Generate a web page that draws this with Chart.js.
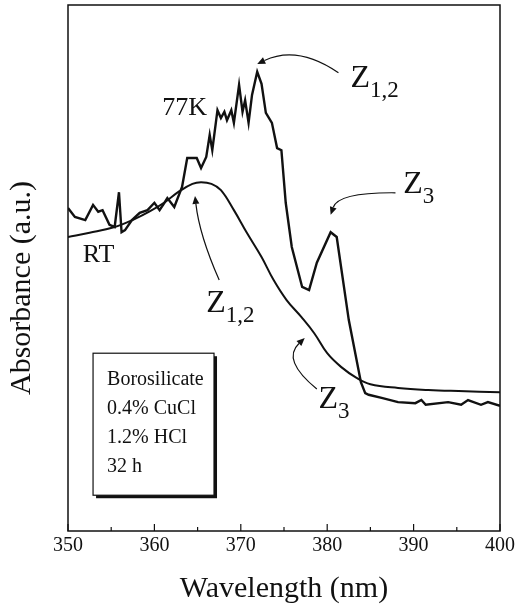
<!DOCTYPE html>
<html>
<head>
<meta charset="utf-8">
<script src="https://cdn.jsdelivr.net/npm/chart.js@4.4.0/dist/chart.umd.min.js"></script>
<style>
  html, body { margin: 0; padding: 0; background: #fff; }
  canvas { display: block; }
</style>
</head>
<body>
<canvas id="spectrum" width="518" height="609"></canvas>
<script>
// Wavelength (nm) and absorbance (a.u., arbitrary 0-100)
const wl77K = [350.0, 350.8, 352.0, 352.9, 353.5, 354.0, 354.8, 355.4, 355.9, 356.2,
               356.6, 357.4, 358.3, 359.2, 360.0, 360.6, 361.2, 361.5, 362.3, 363.2,
               363.8, 364.9, 365.4, 366.0, 366.4, 366.7, 367.3, 367.7, 368.1, 368.4,
               368.9, 369.2, 369.8, 370.2, 370.5, 370.9, 371.3, 371.9, 372.4, 372.9,
               373.6, 374.2, 374.7, 375.2, 375.9, 377.1, 377.9, 378.8, 380.4, 381.1,
               382.5, 383.9, 384.4, 384.8, 386.3, 388.2, 390.2, 390.9, 391.4, 394.0,
               395.5, 396.3, 397.8, 398.6, 400.0];
const abs77K = [61.4, 59.7, 59.1, 62.0, 60.7, 61.0, 58.2, 57.8, 64.4, 56.8,
                57.2, 59.1, 60.5, 61.0, 62.4, 61.0, 62.5, 63.3, 61.6, 65.4,
                70.9, 70.9, 69.0, 71.1, 75.3, 72.4, 80.0, 78.5, 79.7, 78.1,
                80.0, 77.6, 84.8, 79.7, 81.9, 77.6, 82.9, 87.3, 85.0, 79.5,
                77.6, 72.8, 72.4, 62.4, 54.0, 46.4, 45.8, 51.0, 56.8, 55.9,
                40.1, 28.3, 26.2, 25.9, 25.3, 24.5, 24.3, 24.9, 24.0, 24.5,
                24.0, 24.9, 24.0, 24.5, 23.8];

const wlRT = [350.0, 352.5, 355.4, 357.7, 359.4, 361.2, 362.9, 364.4, 365.4, 366.6,
              367.7, 369.2, 370.7, 372.4, 373.8, 375.3, 377.0, 378.5, 380.0, 381.6,
              383.4, 385.0, 388.2, 391.7, 395.2, 400.0];
const absRT = [55.9, 56.7, 57.8, 59.3, 60.7, 62.5, 64.6, 66.0, 66.3, 66.0,
               64.8, 61.0, 56.7, 52.1, 47.7, 43.9, 40.7, 37.6, 33.8, 31.2,
               29.1, 27.9, 27.2, 26.8, 26.6, 26.4];

const xTicks = [350, 360, 370, 380, 390, 400];
const insetLines = ['Borosilicate', '0.4% CuCl', '1.2% HCl', '32 h'];

const serif = '"Liberation Serif", "Times New Roman", serif';
const ink = '#111';

// labels and arrows, placed in data coordinates
const notes = [
  { text: '77K', x: 360.9, y: 79.1, size: 26 },
  { text: 'RT', x: 351.7, y: 51.1, size: 26 },
  { text: 'Z', sub: '1,2', x: 382.7, y: 84.4 },
  { text: 'Z', sub: '3', x: 388.8, y: 64.3 },
  { text: 'Z', sub: '1,2', x: 366.0, y: 41.6 },
  { text: 'Z', sub: '3', x: 379.0, y: 23.4 }
];
const arrows = [
  { from: [381.3, 87.1], ctrl: [376.6, 92.4], to: [371.9, 88.8] },
  { from: [387.9, 64.3], ctrl: [381.3, 64.4], to: [380.4, 60.1] },
  { from: [367.5, 47.7], ctrl: [365.2, 56.3], to: [364.7, 63.7] },
  { from: [378.8, 27.0], ctrl: [374.7, 32.5], to: [377.4, 36.7] }
];
const inset = { left: 352.9, top: 33.8, right: 366.9, bottom: 6.8 };

const extras = {
  id: 'extras',
  afterDatasetsDraw(chart) {
    const { ctx, chartArea: a, scales } = chart;
    const px = v => scales.x.getPixelForValue(v);
    const py = v => scales.y.getPixelForValue(v);
    ctx.save();
    ctx.strokeStyle = ink;
    ctx.fillStyle = ink;

    // frame
    ctx.lineWidth = 1.5;
    ctx.strokeRect(a.left, a.top, a.right - a.left, a.bottom - a.top);

    // inward ticks on the wavelength axis
    ctx.lineWidth = 1.2;
    for (let v = 350; v <= 400; v += 5) {
      const x = px(v);
      const len = v % 10 === 0 ? 7 : 4;
      ctx.beginPath();
      ctx.moveTo(x, a.bottom);
      ctx.lineTo(x, a.bottom - len);
      ctx.stroke();
    }

    // y title
    ctx.save();
    ctx.translate(22, (a.top + a.bottom) / 2 + 20);
    ctx.rotate(-Math.PI / 2);
    ctx.font = '30px ' + serif;
    ctx.textAlign = 'center';
    ctx.textBaseline = 'middle';
    ctx.fillText('Absorbance (a.u.)', 0, 0);
    ctx.restore();

    // labels
    ctx.textBaseline = 'alphabetic';
    ctx.textAlign = 'left';
    notes.forEach(n => {
      const x = px(n.x), y = py(n.y);
      ctx.font = (n.size || 32) + 'px ' + serif;
      ctx.fillText(n.text, x, y);
      if (n.sub) {
        const w = ctx.measureText(n.text).width;
        ctx.font = '23px ' + serif;
        ctx.fillText(n.sub, x + w, y + 10);
      }
    });

    // curved arrows
    ctx.lineWidth = 1.2;
    arrows.forEach(ar => {
      const p0 = [px(ar.from[0]), py(ar.from[1])];
      const c = [px(ar.ctrl[0]), py(ar.ctrl[1])];
      const p1 = [px(ar.to[0]), py(ar.to[1])];
      const ang = Math.atan2(p1[1] - c[1], p1[0] - c[0]);
      const back = 8;
      const bx = p1[0] - back * Math.cos(ang), by = p1[1] - back * Math.sin(ang);
      ctx.beginPath();
      ctx.moveTo(p0[0], p0[1]);
      ctx.quadraticCurveTo(c[0], c[1], bx, by);
      ctx.stroke();
      ctx.beginPath();
      ctx.moveTo(p1[0], p1[1]);
      ctx.lineTo(bx + 3.5 * Math.sin(ang), by - 3.5 * Math.cos(ang));
      ctx.lineTo(bx - 3.5 * Math.sin(ang), by + 3.5 * Math.cos(ang));
      ctx.closePath();
      ctx.fill();
    });

    // inset box with shadow
    const L = px(inset.left), T = py(inset.top), R = px(inset.right), B = py(inset.bottom);
    ctx.fillRect(L + 3, T + 3, R - L, B - T);
    ctx.fillStyle = '#fff';
    ctx.fillRect(L, T, R - L, B - T);
    ctx.fillStyle = ink;
    ctx.lineWidth = 1.2;
    ctx.strokeRect(L, T, R - L, B - T);
    ctx.font = '20px ' + serif;
    insetLines.forEach((s, i) => ctx.fillText(s, L + 14, T + 32 + i * 29));

    ctx.restore();
  }
};

const ctx = document.getElementById('spectrum').getContext('2d');
new Chart(ctx, {
  type: 'line',
  data: {
    datasets: [
      {
        label: '77K',
        data: wl77K.map((w, i) => ({ x: w, y: abs77K[i] })),
        borderColor: ink,
        borderWidth: 2.4,
        pointRadius: 0,
        tension: 0
      },
      {
        label: 'RT',
        data: wlRT.map((w, i) => ({ x: w, y: absRT[i] })),
        borderColor: ink,
        borderWidth: 2,
        pointRadius: 0,
        tension: 0.4
      }
    ]
  },
  options: {
    responsive: false,
    animation: false,
    devicePixelRatio: 1,
    layout: { padding: { top: 5, right: 16, left: 0, bottom: 0 } },
    plugins: {
      legend: { display: false },
      tooltip: { enabled: false }
    },
    scales: {
      x: {
        type: 'linear',
        min: 350,
        max: 400,
        afterFit: s => { s.height = 78; },
        afterBuildTicks: s => { s.ticks = xTicks.map(v => ({ value: v })); },
        grid: { display: false, drawTicks: false },
        border: { display: false },
        ticks: { padding: 3, color: ink, font: { family: serif, size: 20 } },
        title: {
          display: true,
          text: 'Wavelength (nm)',
          color: ink,
          font: { family: serif, size: 30 },
          padding: { top: 0, bottom: 2 }
        }
      },
      y: {
        min: 0,
        max: 100,
        afterFit: s => { s.width = 68; },
        grid: { display: false, drawTicks: false },
        border: { display: false },
        ticks: { display: false }
      }
    }
  },
  plugins: [extras]
});
</script>
</body>
</html>
